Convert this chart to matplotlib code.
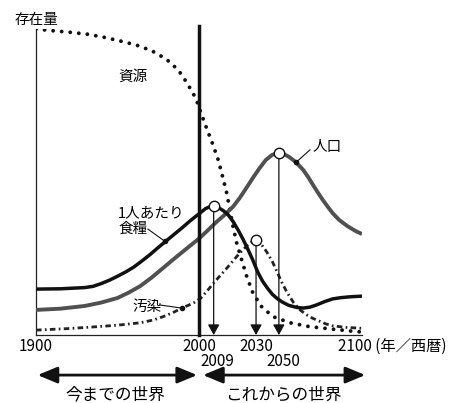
import matplotlib
matplotlib.use("Agg")
import matplotlib.pyplot as plt
import numpy as np

plt.rcParams['font.family'] = ['Noto Sans CJK JP', 'DejaVu Sans']

# ---- data (y in relative units 0-100) ----
res_years = [1900, 1911, 1921.3, 1931.5, 1941.7, 1951.5, 1961.3, 1971, 1979.8, 1987.3,
             1992.5, 1998, 2001.2, 2004.7, 2008.4, 2011.8, 2014.5, 2017, 2019, 2020.9,
             2023.1, 2026.2, 2029.3, 2033.1, 2038.5, 2045.4, 2055.8, 2068.1, 2082.2, 2096.7, 2100]
resources = [100, 99.4, 98.9, 98.3, 97.3, 96.1, 94.8, 92.9, 90.2, 86.6,
             82.5, 77.4, 72.6, 67.5, 62.4, 57.2, 51.7, 46.4, 40.8, 35.4,
             30.1, 24.5, 19.1, 13.7, 9.2, 6.0, 4.0, 2.7, 1.9, 1.1, 1.0]

food_years = [1900, 1915, 1930, 1935, 1940, 1945, 1950, 1955, 1960, 1965, 1970, 1975,
              1980, 1985, 1990, 1995, 2000, 2004, 2007, 2009, 2012, 2015, 2018, 2021,
              2024, 2027, 2030, 2033, 2036, 2039, 2042, 2045, 2048, 2051, 2055, 2060,
              2064, 2068, 2072, 2077, 2082, 2087, 2093, 2100]
food = [15.0, 15.1, 15.5, 15.9, 16.8, 17.9, 19.2, 20.6, 22.2, 24.2, 26.3, 28.6,
        30.8, 33.0, 35.2, 37.5, 39.6, 41.3, 42.0, 42.2, 41.6, 40.6, 39.2, 37.0,
        34.3, 31.3, 28.0, 24.5, 20.6, 17.6, 15.3, 13.3, 11.9, 10.8, 9.7, 9.0,
        8.8, 9.1, 9.8, 10.9, 11.8, 12.2, 12.5, 12.7]

pop_years = [1900, 1915, 1930, 1940, 1950, 1957, 1964, 1971, 1978, 1984, 1993, 2000,
             2005, 2010, 2016, 2021, 2025, 2029, 2033, 2037, 2041, 2045, 2049, 2052,
             2055, 2058, 2061, 2064, 2067, 2070, 2073, 2076, 2079, 2082, 2086, 2091,
             2096, 2100]
population = [8.2, 8.6, 9.5, 10.6, 12.1, 13.9, 16.0, 18.8, 21.9, 24.6, 28.5, 31.5,
              34.0, 36.6, 39.4, 42.0, 44.8, 48.0, 51.3, 54.4, 57.2, 58.9, 59.4, 59.1,
              58.3, 57.1, 55.6, 53.9, 51.6, 49.0, 46.5, 44.1, 41.9, 39.8, 37.6, 35.6,
              34.0, 33.0]

pol_years = [1900, 1920, 1937, 1950, 1964, 1972, 1978, 1984, 1989.4, 1993, 1997, 2001,
             2005, 2009, 2013, 2017, 2021, 2025, 2029, 2032, 2035, 2038, 2041.5, 2045,
             2048, 2051, 2054, 2058, 2062, 2066, 2070, 2074, 2078, 2082, 2090, 2100]
pollution = [1.6, 2.1, 2.7, 3.2, 4.0, 4.9, 6.0, 7.3, 8.8, 9.6, 10.6, 12.0,
             14.4, 17.0, 19.4, 21.8, 24.3, 26.8, 28.9, 30.3, 31.0, 29.8, 27.2, 24.0,
             20.5, 17.0, 13.9, 10.6, 8.2, 6.6, 5.4, 4.5, 3.6, 3.0, 2.5, 2.2]

# peaks (circles + arrows): position, value, label
peak_years = [2009, 2035, 2049]
peak_values = [42.2, 31.0, 59.4]
peak_labels = ['2009', '2030', '2050']

main_ticks = [1900, 2000, 2035]
main_tick_labels = ['1900', '2000', '2030']

# ---- figure ----
fig = plt.figure(figsize=(4.6, 4.03), dpi=100)
ax = fig.add_axes([36/460, 68/403, 326/460, 306/403])
ax.set_xlim(1900, 2100)
ax.set_ylim(0, 100)
ax.set_xticks([])
ax.set_yticks([])
for s in ['top', 'right']:
    ax.spines[s].set_visible(False)
for s in ['left', 'bottom']:
    ax.spines[s].set_linewidth(0.9)
    ax.spines[s].set_color('#222222')

# curves
ax.plot(res_years, resources, color='#111111', lw=2.8, linestyle=(0, (0.01, 2.2)),
        dash_capstyle='round', zorder=3)
ax.plot(pol_years, pollution, color='#222222', lw=2.0,
        linestyle=(0, (2.0, 1.2, 0.6, 1.2)), zorder=3)
ax.plot(pop_years, population, color='#505050', lw=2.8, solid_capstyle='butt',
        solid_joinstyle='round', zorder=4)
ax.plot(food_years, food, color='#111111', lw=2.5, solid_capstyle='butt',
        solid_joinstyle='round', zorder=5)

# thick 2000 divider
ax.plot([2000, 2000], [0, 101], color='#111111', lw=2.5, clip_on=False, zorder=6)

# peak arrows and circles
for yr, v in zip(peak_years, peak_values):
    ax.annotate('', xy=(yr, 0), xytext=(yr, v),
                arrowprops=dict(arrowstyle='-|>,head_length=0.45,head_width=0.25',
                                lw=0.9, color='#111111', shrinkA=4, shrinkB=0,
                                mutation_scale=14), zorder=7)
ax.plot(peak_years, peak_values, 'o', ms=7.5, mfc='white', mec='#111111', mew=1.0, zorder=8)

# tick labels
trans = ax.get_xaxis_transform()
for x, lab in zip(main_ticks, main_tick_labels):
    ax.text(x, -0.036, lab, transform=trans, ha='center', va='center', fontsize=11)
ax.text(2085.3, -0.036, '2100 (年／西暦)', transform=trans, ha='left', va='center', fontsize=11)
ax.text(2011.3, -0.088, peak_labels[0], transform=trans, ha='center', va='center', fontsize=11)
ax.text(2051.5, -0.088, peak_labels[2], transform=trans, ha='center', va='center', fontsize=11)

# bottom range arrows
for x0, x1 in [(1901, 1998.8), (2002.5, 2102)]:
    ax.annotate('', xy=(x1, -0.131), xytext=(x0, -0.131), xycoords=trans, textcoords=trans,
                arrowprops=dict(arrowstyle='<|-|>,head_length=0.6,head_width=0.25',
                                lw=2.0, color='#111111', shrinkA=0, shrinkB=0,
                                mutation_scale=20), annotation_clip=False)
ax.text(1948.5, -0.196, '今までの世界', transform=trans, ha='center', va='center', fontsize=12)
ax.text(2052, -0.196, 'これからの世界', transform=trans, ha='center', va='center', fontsize=12)

# annotations
ax.text(1900.6, 102.9, '存在量', ha='center', va='center', fontsize=10.5, clip_on=False)
ax.text(1959.5, 84.3, '資源', ha='center', va='center', fontsize=10.5)
ax.text(1950.3, 39.7, '1人あたり', ha='left', va='center', fontsize=10.5)
ax.text(1950.3, 34.6, '食糧', ha='left', va='center', fontsize=10.5)
ax.text(1958.9, 9.2, '汚染', ha='left', va='center', fontsize=10.5)
ax.text(2069.9, 61.4, '人口', ha='left', va='center', fontsize=10.5)

leaders = [((1968.7, 34.6), (1979.1, 30.6)),
           ((1976.1, 9.8), (1989.4, 8.8)),
           ((2068.1, 60.5), (2059.5, 56.4))]
for (xa, ya), (xb, yb) in leaders:
    ax.plot([xa, xb], [ya, yb], color='#111111', lw=0.8, zorder=9)
    ax.plot([xb], [yb], 'o', ms=3, color='#111111', zorder=9)

fig.savefig('out.png', dpi=100, facecolor='white')
